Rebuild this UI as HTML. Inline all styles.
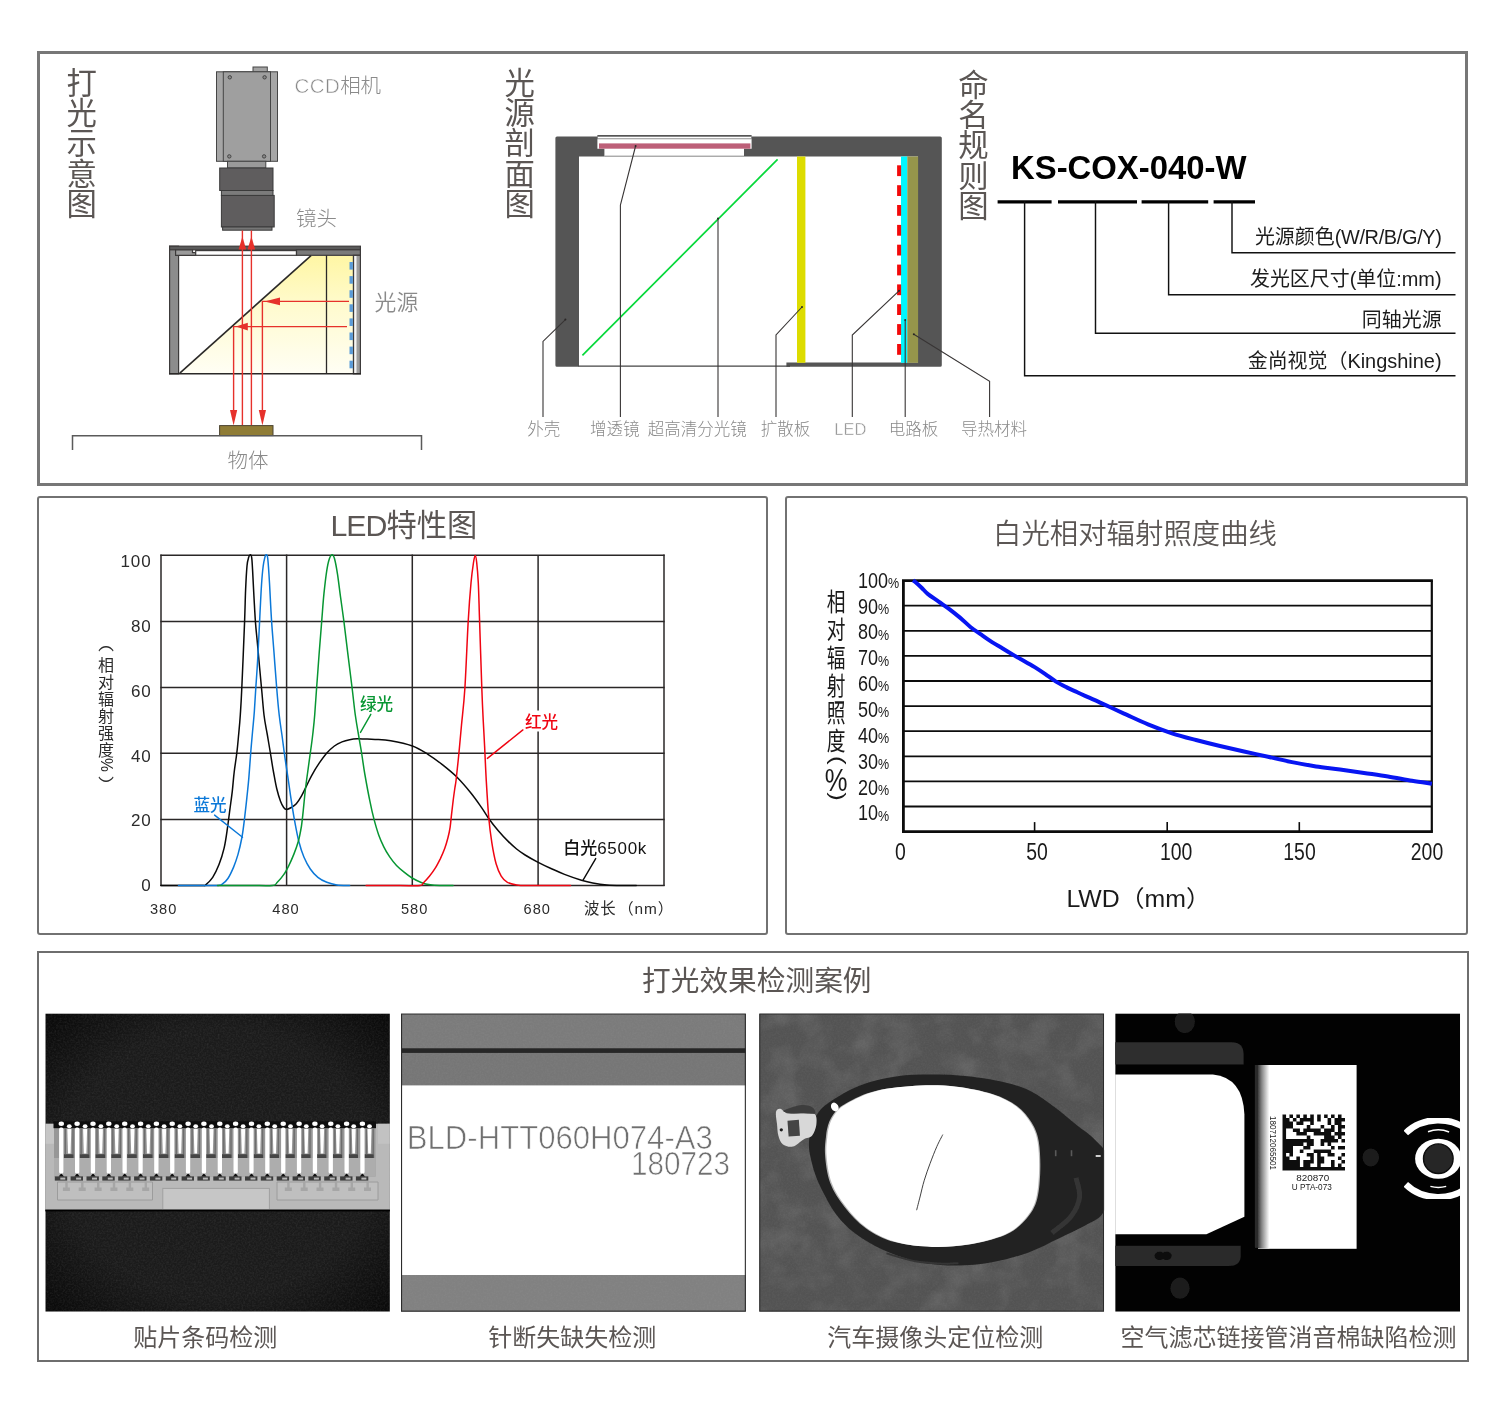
<!DOCTYPE html>
<html lang="zh-CN">
<head>
<meta charset="utf-8">
<title>KS-COX 同轴光源</title>
<style>
html,body{margin:0;padding:0;background:#fff;}
body{width:1500px;height:1420px;position:relative;overflow:hidden;font-family:"Liberation Sans", "Noto Sans CJK SC", sans-serif;}
svg{position:absolute;left:0;top:0;display:block;}
svg text{font-family:"Liberation Sans", "Noto Sans CJK SC", sans-serif;}
</style>
</head>
<body>
<svg width="1500" height="1420" viewBox="0 0 1500 1420">

<!-- ===== panel frames ===== -->
<rect x="38.5" y="52.5" width="1428" height="432" fill="#fff" stroke="#777" stroke-width="3"/>
<rect x="38" y="497" width="729" height="437" rx="2" fill="#fff" stroke="#727272" stroke-width="2"/>
<rect x="786" y="497" width="681" height="437" rx="2" fill="#fff" stroke="#727272" stroke-width="2"/>
<rect x="38" y="952" width="1430" height="409" fill="#fff" stroke="#6e6e6e" stroke-width="2"/>
<text text-anchor="middle" font-size="30.4" fill="#5b5654" font-weight="400" ><tspan x="81.8" y="93.6">打</tspan><tspan x="81.8" y="124.0">光</tspan><tspan x="81.8" y="154.4">示</tspan><tspan x="81.8" y="184.8">意</tspan><tspan x="81.8" y="215.2">图</tspan></text>
<text text-anchor="middle" font-size="30.4" fill="#5b5654" font-weight="400" ><tspan x="519.8" y="93.6">光</tspan><tspan x="519.8" y="124.0">源</tspan><tspan x="519.8" y="154.4">剖</tspan><tspan x="519.8" y="184.8">面</tspan><tspan x="519.8" y="215.2">图</tspan></text>
<text text-anchor="middle" font-size="30.4" fill="#5b5654" font-weight="400" ><tspan x="973.4" y="95.6">命</tspan><tspan x="973.4" y="126.0">名</tspan><tspan x="973.4" y="156.4">规</tspan><tspan x="973.4" y="186.8">则</tspan><tspan x="973.4" y="217.2">图</tspan></text>
<g stroke="#454545" stroke-width="1">
<rect x="253" y="67" width="14.3" height="6" fill="#a3a3a3"/>
<rect x="216.5" y="71.8" width="61" height="89.5" fill="#a6a6a6"/>
<rect x="223.3" y="71.8" width="47.2" height="89.5" fill="#9f9f9f"/>
<circle cx="229.8" cy="77.3" r="1.7" fill="#8a8a8a"/>
<circle cx="264.6" cy="77.3" r="1.7" fill="#8a8a8a"/>
<circle cx="229.3" cy="156.4" r="1.7" fill="#8a8a8a"/>
<circle cx="264.1" cy="156.4" r="1.7" fill="#8a8a8a"/>
<rect x="227.5" y="161.3" width="38.3" height="6.7" fill="#9a9a9a"/>
</g>
<g stroke="#3a3a3a" stroke-width="1">
<rect x="219.7" y="168" width="53.3" height="22.5" fill="#5f5d5e"/>
<rect x="221.4" y="190.5" width="51.6" height="5" fill="#7b7b7b"/>
<rect x="221.4" y="195.4" width="52.8" height="31.6" fill="#5f5d5e"/>
<rect x="222.6" y="227" width="49.4" height="3.2" fill="#767676"/>
</g>
<defs><linearGradient id="gy" x1="0" y1="0" x2="0" y2="1"><stop offset="0" stop-color="#fff6a4"/><stop offset="0.45" stop-color="#fffbd0"/><stop offset="1" stop-color="#fffef4"/></linearGradient></defs>
<polygon points="179.6,373.4 311,255.4 353.5,255.4 353.5,373.4" fill="url(#gy)"/>
<g stroke="#3c3a3a" stroke-width="1.2">
<rect x="169.6" y="246.2" width="9" height="127.6" fill="#8c8c8c"/>
<rect x="169.6" y="246.2" width="190.8" height="3.6" fill="#5a5a5a"/>
<path d="M175.6 249.8H192.5V252.6H195.7V255.3H175.6Z" fill="#9b9b9b"/>
<rect x="195.7" y="250.6" width="100.8" height="4.7" fill="#fff"/>
<rect x="296.5" y="249.8" width="63.9" height="5.5" fill="#7a7a7a"/>
<rect x="353.4" y="255.3" width="7" height="118.5" fill="#9c9c9c"/>
</g>
<rect x="354.3" y="256" width="2.2" height="117.2" fill="#f4f4f4"/>
<g stroke="#2b2928" fill="none">
<line x1="169" y1="373.8" x2="361" y2="373.8" stroke-width="1.4"/>
<line x1="326.5" y1="255.3" x2="326.5" y2="373.8" stroke-width="1.3"/>
<line x1="179.8" y1="373.2" x2="311" y2="255.6" stroke-width="1.6"/>
</g>
<g fill="#5b9bd8"><rect x="349.5" y="262.0" width="3.4" height="7.6"/><rect x="349.5" y="276.1" width="3.4" height="7.6"/><rect x="349.5" y="290.2" width="3.4" height="7.6"/><rect x="349.5" y="304.3" width="3.4" height="7.6"/><rect x="349.5" y="318.4" width="3.4" height="7.6"/><rect x="349.5" y="332.5" width="3.4" height="7.6"/><rect x="349.5" y="346.6" width="3.4" height="7.6"/><rect x="349.5" y="360.7" width="3.4" height="7.6"/></g>
<g stroke="#e6312b" stroke-width="1.4" fill="none">
<line x1="242.4" y1="230.5" x2="242.4" y2="425"/>
<line x1="251.4" y1="230.5" x2="251.4" y2="425"/>
<polyline points="349,301.4 262.4,301.4 262.4,412"/>
<polyline points="347,326.6 233.6,326.6 233.6,412"/>
</g>
<g fill="#e6312b">
<polygon points="242.4,236.5 246.2,249.6 238.6,249.6"/>
<polygon points="251.4,236.5 255.2,249.6 247.6,249.6"/>
<polygon points="264.5,301.4 280,297.6 280,305.2"/>
<polygon points="235.8,326.6 247.8,322.8 247.8,330.4"/>
<polygon points="262.4,425.4 258.8,410 266,410"/>
<polygon points="233.6,425.4 230,410 237.2,410"/>
</g>
<rect x="219.6" y="425.6" width="53.4" height="10" fill="#8f7c36" stroke="#4a4330" stroke-width="1"/>
<polyline points="72.5,450 72.5,435.8 421.5,435.8 421.5,450" fill="none" stroke="#5a5a5a" stroke-width="1.5"/>
<g font-size="20.5" fill="#8a8a8a" font-weight="300">
<text x="294.5" y="92.5"><tspan stroke="#fff" stroke-width="0.55" letter-spacing="0.4">CCD</tspan>相机</text>
<text x="296" y="225.5">镜头</text>
<text x="374.6" y="309.6" font-size="21.8" font-weight="350">光源</text>
<text x="227.5" y="468">物体</text>
</g>
<g>
<path fill="#555555" fill-rule="evenodd" d="M557 136.4H940.2Q941.8 136.4 941.8 138V365.2Q941.8 366.8 940.2 366.8H786.4V362.6H918V156.5H579V366.8H557Q555.4 366.8 555.4 365.2V138Q555.4 136.4 557 136.4ZM597.4 135H751.6V148.8H744V156.6H604.4V148.8H597.4Z"/>
<line x1="578.5" y1="366.2" x2="790" y2="366.2" stroke="#444" stroke-width="1.2"/>
<rect x="597.6" y="136.6" width="153.8" height="2.2" fill="#fff" stroke="#777" stroke-width="0.8"/>
<line x1="604.4" y1="156.2" x2="744" y2="156.2" stroke="#666" stroke-width="0.8"/>
<rect x="599" y="143.4" width="151.4" height="5.3" fill="#bd5f78"/>
<line x1="582.4" y1="355.4" x2="777.6" y2="159.4" stroke="#06d83a" stroke-width="1.7"/>
<rect x="797" y="156.5" width="8.4" height="206.3" fill="#dddc00"/>
<rect x="901" y="156.5" width="6.4" height="206.3" fill="#00f6ff"/>
<rect x="907.3" y="156.5" width="10.8" height="206.3" fill="#95954b"/>
<g fill="#f20a0a"><rect x="897.1" y="165.3" width="4" height="10.8"/><rect x="897.1" y="185.2" width="4" height="10.8"/><rect x="897.1" y="205.0" width="4" height="10.8"/><rect x="897.1" y="224.9" width="4" height="10.8"/><rect x="897.1" y="244.7" width="4" height="10.8"/><rect x="897.1" y="264.6" width="4" height="10.8"/><rect x="897.1" y="284.4" width="4" height="10.8"/><rect x="897.1" y="304.2" width="4" height="10.8"/><rect x="897.1" y="324.1" width="4" height="10.8"/><rect x="897.1" y="344.0" width="4" height="10.8"/></g>
</g>
<g stroke="#383535" stroke-width="1.1" fill="none">
<polyline points="565.4,319.6 543,341.4 543,417"/>
<polyline points="635.6,146 620.4,205 620.4,417"/>
<polyline points="718,218.6 718,417"/>
<polyline points="802,307 776,335 776,417"/>
<polyline points="899,290.8 852.3,335 852.3,417"/>
<polyline points="905.2,320 905.2,417"/>
<polyline points="913.8,334.3 989.6,381.4 989.6,417"/>
</g>
<g fill="#2a2727">
<circle cx="565.4" cy="319.6" r="1"/>
<circle cx="635.6" cy="146" r="1"/>
<circle cx="718" cy="218.6" r="1"/>
<circle cx="802" cy="307" r="1"/>
<circle cx="899" cy="290.8" r="1"/>
<circle cx="905.2" cy="320" r="1"/>
<circle cx="913.8" cy="334.3" r="1"/>
</g>
<g font-size="16.5" fill="#8a8a8a" font-weight="300" text-anchor="middle">
<text x="543.8" y="434.6">外壳</text>
<text x="614.7" y="434.6">增透镜</text>
<text x="697.2" y="434.6">超高清分光镜</text>
<text x="785.5" y="434.6">扩散板</text>
<text x="850.4" y="434.6"><tspan stroke="#fff" stroke-width="0.5">LED</tspan></text>
<text x="913.4" y="434.6">电路板</text>
<text x="994" y="434.6">导热材料</text>
</g>
<text x="1011" y="179" font-size="32.6" font-weight="700" fill="#000" textLength="235.5" lengthAdjust="spacingAndGlyphs">KS-COX-040-W</text>
<g stroke="#000" stroke-width="3.4">
<line x1="997.6" y1="201.9" x2="1051.6" y2="201.9"/>
<line x1="1058" y1="201.9" x2="1137" y2="201.9"/>
<line x1="1141.6" y1="201.9" x2="1208.2" y2="201.9"/>
<line x1="1213.6" y1="201.9" x2="1255" y2="201.9"/>
</g>
<g stroke="#111" stroke-width="1.45" fill="none">
<polyline points="1024.6,201.2 1024.6,375.8 1455.5,375.8"/>
<polyline points="1095.5,201.2 1095.5,333.3 1455.5,333.3"/>
<polyline points="1168.6,201.2 1168.6,294.8 1455.5,294.8"/>
<polyline points="1232,201.2 1232,252.7 1455.5,252.7"/>
</g>
<g font-size="19.95" fill="#1c1c1c" text-anchor="end">
<text x="1441.6" y="244.3">光源颜色<tspan letter-spacing="-0.35">(W/R/B/G/Y)</tspan></text>
<text x="1441.6" y="285.9">发光区尺寸(单位:mm)</text>
<text x="1441.6" y="326.6">同轴光源</text>
<text x="1441.6" y="367.6">金尚视觉（Kingshine)</text>
</g>
<text x="403.9" y="536" font-size="30.3" fill="#5b5654" text-anchor="middle"><tspan letter-spacing="-1">LED</tspan>特性图</text>
<g stroke="#2a2727" stroke-width="1.5" fill="none">
<line x1="161" y1="554.6" x2="161" y2="886.1"/>
<line x1="286.6" y1="554.6" x2="286.6" y2="886.1"/>
<line x1="412.3" y1="554.6" x2="412.3" y2="886.1"/>
<line x1="538.1" y1="555.2" x2="538.1" y2="710.5"/>
<line x1="538.1" y1="731.5" x2="538.1" y2="885.5"/>
<line x1="664" y1="554.6" x2="664" y2="886.1"/>
<line x1="160.4" y1="555.2" x2="664.6" y2="555.2"/>
<line x1="160.4" y1="621.4" x2="664.6" y2="621.4"/>
<line x1="160.4" y1="687.6" x2="664.6" y2="687.6"/>
<line x1="160.4" y1="753.3" x2="664.6" y2="753.3"/>
<line x1="160.4" y1="819.6" x2="664.6" y2="819.6"/>
<line x1="160.4" y1="885.5" x2="664.6" y2="885.5"/>
</g>
<g fill="none" stroke-linejoin="round" stroke-linecap="round">
<path d="M161.0 885.5C165.8 885.5 183.0 885.5 190.0 885.5C197.0 885.5 200.4 885.6 203.0 885.5C205.6 885.4 204.1 886.3 205.7 884.9C207.3 883.5 210.5 880.7 212.7 877.3C214.9 873.9 217.1 869.5 219.0 864.6C220.9 859.7 222.7 854.0 224.1 848.1C225.5 842.2 226.4 835.4 227.3 829.1C228.2 822.8 229.0 816.4 229.8 810.1C230.6 803.8 231.6 797.5 232.3 791.1C233.0 784.8 233.4 778.4 234.2 772.0C234.9 765.6 236.1 759.3 236.8 753.0C237.6 746.7 238.1 740.3 238.7 734.0C239.3 727.7 239.8 722.7 240.3 715.0C240.8 707.3 241.1 703.6 241.8 688.0C242.5 672.4 244.0 637.7 244.6 621.4C245.2 605.1 245.2 599.2 245.6 590.0C246.0 580.8 246.5 571.4 247.0 566.0C247.5 560.6 248.0 559.5 248.6 557.6C249.2 555.7 249.9 554.8 250.4 554.8C250.9 554.8 251.3 555.1 251.7 557.7C252.1 560.3 252.2 564.1 252.6 570.4C253.0 576.7 253.4 587.2 253.9 595.7C254.4 604.2 254.8 613.0 255.4 621.4C256.0 629.8 256.7 635.3 257.7 646.4C258.7 657.5 260.4 676.6 261.5 688.0C262.6 699.4 263.1 707.3 264.0 715.0C264.9 722.7 266.1 727.7 267.2 734.0C268.3 740.3 269.3 746.7 270.4 753.0C271.4 759.3 272.4 766.1 273.5 772.0C274.6 777.9 275.5 783.6 276.7 788.5C277.9 793.4 279.3 798.0 280.5 801.2C281.7 804.4 282.7 806.1 283.7 807.5C284.7 808.9 285.3 809.4 286.6 809.4C287.9 809.4 289.7 808.5 291.3 807.5C292.9 806.5 294.6 805.6 296.3 803.7C298.0 801.8 299.7 799.1 301.4 796.1C303.1 793.1 304.8 789.4 306.5 786.0C308.2 782.6 309.4 779.6 311.5 775.8C313.6 772.0 316.6 767.0 319.2 763.2C321.8 759.4 324.3 755.9 326.8 753.0C329.3 750.1 331.9 747.9 334.4 746.0C336.9 744.1 339.5 742.9 342.0 741.9C344.5 740.9 347.1 740.2 349.6 739.7C352.1 739.2 354.7 738.9 357.2 738.8C359.7 738.7 361.8 738.9 364.8 739.0C367.8 739.1 370.7 739.1 375.0 739.4C379.3 739.7 384.5 739.7 390.7 740.8C396.9 741.9 406.2 743.8 412.4 746.0C418.6 748.2 422.9 751.2 427.9 754.3C432.9 757.4 437.5 760.8 442.3 764.6C447.1 768.4 452.0 772.2 456.8 777.0C461.6 781.8 467.2 788.4 471.3 793.5C475.4 798.6 478.7 803.5 481.6 807.6C484.5 811.7 485.7 814.3 488.5 818.2C491.3 822.1 495.0 826.9 498.3 830.8C501.6 834.7 505.1 838.4 508.2 841.4C511.2 844.4 513.8 846.7 516.6 849.0C519.4 851.3 521.6 852.8 525.1 855.0C528.6 857.2 533.5 859.9 537.7 862.1C541.9 864.3 545.9 866.2 550.4 868.2C554.9 870.2 559.3 872.4 564.5 874.4C569.7 876.4 576.7 878.8 581.4 880.2C586.1 881.6 588.5 882.2 592.7 883.0C596.9 883.8 602.1 884.6 606.8 885.0C611.5 885.4 615.9 885.5 620.8 885.6C625.7 885.7 633.7 885.4 636.3 885.4" stroke="#0a0a0a" stroke-width="1.5"/>
<path d="M178.5 885.5C182.1 885.5 193.5 885.5 200.0 885.5C206.5 885.5 214.0 885.7 217.7 885.5C221.4 885.3 220.5 885.4 222.2 884.2C223.9 883.0 226.0 881.4 227.9 878.5C229.8 875.6 231.9 871.1 233.6 867.1C235.3 863.1 236.6 859.2 238.0 854.4C239.4 849.5 240.7 843.8 241.8 838.0C242.9 832.2 243.6 826.4 244.4 819.6C245.2 812.8 246.2 804.3 246.9 797.4C247.6 790.5 248.2 785.8 248.8 778.4C249.4 771.0 250.1 760.9 250.7 753.0C251.3 745.1 252.0 737.8 252.6 731.0C253.2 724.2 253.8 719.2 254.3 712.0C254.8 704.8 255.2 696.8 255.8 688.0C256.4 679.2 257.1 670.1 257.7 659.0C258.3 647.9 259.0 633.7 259.6 621.4C260.2 609.1 260.9 594.2 261.5 585.0C262.1 575.8 262.6 570.6 263.2 566.0C263.8 561.4 264.3 559.5 264.8 557.6C265.3 555.7 265.8 554.6 266.3 554.8C266.8 555.0 267.3 554.3 267.8 559.0C268.3 563.7 268.9 572.6 269.5 583.0C270.1 593.4 270.8 609.4 271.6 621.4C272.4 633.4 273.4 644.2 274.2 655.3C275.0 666.4 275.9 678.0 276.7 688.0C277.5 698.0 278.3 707.3 279.2 715.0C280.1 722.7 280.9 727.7 281.8 734.0C282.7 740.3 283.4 746.2 284.3 753.0C285.2 759.8 286.4 767.4 287.5 774.6C288.6 781.8 289.5 788.6 290.6 796.1C291.8 803.6 293.0 812.0 294.4 819.6C295.8 827.2 297.3 835.6 298.9 841.8C300.5 848.0 302.0 852.5 303.9 857.0C305.8 861.5 308.0 865.6 310.3 869.0C312.6 872.4 315.1 875.1 317.9 877.3C320.6 879.5 323.6 881.0 326.8 882.3C330.0 883.6 333.1 884.4 336.9 884.9C340.7 885.4 347.5 885.4 349.6 885.5" stroke="#0b78d8" stroke-width="1.5"/>
<path d="M217.5 885.5C222.9 885.5 240.9 885.5 250.0 885.5C259.1 885.5 267.8 886.0 272.3 885.5C276.9 885.0 275.4 884.1 277.3 882.3C279.2 880.5 281.8 877.5 283.7 874.7C285.6 872.0 287.0 869.2 288.7 865.8C290.4 862.4 292.2 858.4 293.8 854.4C295.4 850.4 296.9 846.4 298.2 841.8C299.5 837.1 300.5 831.8 301.4 826.5C302.2 821.2 302.7 816.0 303.3 810.1C303.9 804.2 304.5 797.5 305.2 791.1C305.9 784.8 306.8 778.4 307.7 772.0C308.6 765.6 309.4 759.3 310.3 753.0C311.2 746.7 312.1 740.3 312.8 734.0C313.5 727.7 314.1 722.7 314.7 715.0C315.3 707.3 315.9 698.4 316.6 688.0C317.4 677.6 318.4 663.8 319.2 652.7C320.0 641.6 320.9 631.3 321.7 621.4C322.5 611.5 323.1 601.7 324.0 593.2C324.9 584.7 325.9 576.1 326.8 570.4C327.7 564.7 328.4 561.6 329.3 559.0C330.2 556.4 331.2 554.8 332.1 554.8C333.0 554.8 333.7 555.8 334.6 559.0C335.5 562.2 336.5 567.7 337.5 574.2C338.5 580.7 339.6 590.3 340.7 598.2C341.8 606.1 342.7 612.3 343.9 621.4C345.1 630.5 346.3 641.6 347.7 652.7C349.1 663.8 350.8 677.6 352.1 688.0C353.4 698.4 354.2 707.3 355.3 715.0C356.4 722.7 357.3 727.7 358.4 734.0C359.4 740.3 360.5 746.3 361.6 753.0C362.7 759.7 363.4 766.0 364.8 774.0C366.2 782.0 368.3 793.5 369.9 801.1C371.4 808.7 372.6 814.0 374.1 819.6C375.6 825.2 377.1 830.4 378.7 834.9C380.3 839.4 382.0 843.1 383.8 846.8C385.6 850.5 387.6 853.8 389.7 856.9C391.8 860.0 394.1 862.9 396.5 865.4C398.9 867.9 401.5 870.0 404.1 872.1C406.7 874.2 409.2 876.2 412.1 878.0C415.1 879.8 418.8 881.6 421.8 882.7C424.8 883.8 427.3 884.3 430.3 884.8C433.3 885.3 435.8 885.4 439.6 885.5C443.4 885.6 450.9 885.5 453.1 885.5" stroke="#079632" stroke-width="1.5"/>
<path d="M366.1 885.5C371.8 885.5 391.0 885.5 400.0 885.5C409.0 885.5 416.2 886.0 420.1 885.5C424.0 885.0 421.9 884.2 423.5 882.7C425.1 881.2 427.4 878.8 429.4 876.3C431.4 873.8 433.6 870.8 435.4 867.9C437.2 865.0 438.8 861.8 440.4 858.6C441.9 855.4 443.4 852.0 444.7 848.5C446.0 845.0 447.1 841.0 448.0 837.5C448.9 834.0 449.5 831.2 450.1 827.3C450.7 823.3 451.1 818.2 451.6 813.8C452.1 809.4 452.6 805.3 453.1 801.1C453.6 796.9 454.3 792.0 454.8 788.5C455.3 785.0 455.4 785.9 456.1 780.0C456.8 774.1 458.0 762.4 458.9 753.2C459.8 744.0 460.5 735.9 461.5 725.0C462.5 714.1 463.8 705.3 464.9 688.0C466.0 670.7 467.2 638.9 468.2 621.4C469.2 603.9 470.1 592.8 471.0 583.0C471.9 573.2 472.8 567.1 473.5 562.5C474.2 557.9 474.7 555.5 475.2 555.5C475.7 555.5 476.2 557.9 476.7 562.5C477.2 567.1 477.8 573.2 478.3 583.0C478.8 592.8 479.0 603.9 479.6 621.4C480.2 638.9 481.2 671.6 481.8 688.0C482.4 704.4 482.7 710.3 483.2 720.0C483.7 729.7 484.1 735.8 484.6 746.0C485.1 756.2 485.6 769.1 486.3 781.1C487.0 793.1 487.9 808.0 488.8 818.3C489.7 828.6 490.7 835.5 491.9 843.1C493.1 850.7 494.6 858.3 496.1 863.8C497.7 869.3 499.3 873.1 501.2 876.2C503.1 879.3 504.8 881.0 507.4 882.4C510.0 883.8 513.4 884.4 516.7 884.9C520.0 885.4 521.5 885.4 527.0 885.5C532.5 885.6 542.8 885.5 550.0 885.5C557.2 885.5 567.1 885.5 570.5 885.5" stroke="#f00512" stroke-width="1.5"/>
<line x1="214.6" y1="815.1" x2="242.5" y2="837.3" stroke="#0b78d8" stroke-width="1.4"/>
<line x1="370.8" y1="714.3" x2="360.5" y2="732.4" stroke="#079632" stroke-width="1.4"/>
<line x1="522.9" y1="729.9" x2="487.4" y2="758.4" stroke="#f00512" stroke-width="1.4"/>
<line x1="595.7" y1="858.6" x2="582.9" y2="880.3" stroke="#0a0a0a" stroke-width="1.4"/>
</g>
<g font-size="16.6" font-weight="500">
<text x="193.5" y="811" fill="#0b78d8">蓝光</text>
<text x="360" y="710" fill="#079632">绿光</text>
<text x="525" y="727.5" fill="#f00512">红光</text>
<text x="563.2" y="853.6" fill="#111" font-size="17">白光<tspan letter-spacing="0.7">6500k</tspan></text>
</g>
<g font-size="17" fill="#2b2b2b" text-anchor="end" letter-spacing="0.9">
<text x="151.6" y="567.4">100</text>
<text x="151.6" y="632.2">80</text>
<text x="151.6" y="697">60</text>
<text x="151.6" y="762.4">40</text>
<text x="151.6" y="826.4">20</text>
<text x="151.6" y="890.8">0</text>
</g>
<g font-size="14.6" fill="#2b2b2b" text-anchor="middle" letter-spacing="1">
<text x="163.6" y="913.6">380</text>
<text x="286" y="913.6">480</text>
<text x="414.6" y="913.6">580</text>
<text x="537.2" y="913.6">680</text>
</g>
<text x="584" y="914.2" font-size="15.4" fill="#2b2b2b" letter-spacing="0.9">波长<tspan dx="1.6">（nm）</tspan></text>
<g font-size="16" fill="#2b2b2b" text-anchor="middle"><text transform="translate(106,649.8) scale(0.78,1)" font-size="20">︵</text><text x="106" y="670.6">相</text><text x="106" y="687.7">对</text><text x="106" y="704.8">辐</text><text x="106" y="721.9">射</text><text x="106" y="739.0">强</text><text x="106" y="756.1">度</text><text transform="translate(106,793.9) scale(0.78,1)" font-size="20">︶</text></g><text transform="translate(100.6,757.9) rotate(90)" font-size="15.6" fill="#2b2b2b">%</text>
<text x="1135" y="544.4" font-size="28.4" fill="#5b5654" text-anchor="middle" font-weight="350">白光相对辐射照度曲线</text>
<g stroke="#0c0c0c" fill="none">
<line x1="903.4" y1="605.7" x2="1431.8" y2="605.7" stroke-width="1.8"/>
<line x1="903.4" y1="630.8" x2="1431.8" y2="630.8" stroke-width="1.8"/>
<line x1="903.4" y1="655.9" x2="1431.8" y2="655.9" stroke-width="1.8"/>
<line x1="903.4" y1="681.0" x2="1431.8" y2="681.0" stroke-width="1.8"/>
<line x1="903.4" y1="706.1" x2="1431.8" y2="706.1" stroke-width="1.8"/>
<line x1="903.4" y1="731.2" x2="1431.8" y2="731.2" stroke-width="1.8"/>
<line x1="903.4" y1="756.3" x2="1431.8" y2="756.3" stroke-width="1.8"/>
<line x1="903.4" y1="781.4" x2="1431.8" y2="781.4" stroke-width="1.8"/>
<line x1="903.4" y1="806.5" x2="1431.8" y2="806.5" stroke-width="1.8"/>
<line x1="902.0" y1="580.6" x2="1432.8999999999999" y2="580.6" stroke-width="2.8"/>
<line x1="902.0" y1="831.6" x2="1432.8999999999999" y2="831.6" stroke-width="2.8"/>
<line x1="903.4" y1="580.6" x2="903.4" y2="831.6" stroke-width="2.8"/>
<line x1="1431.8" y1="580.6" x2="1431.8" y2="831.6" stroke-width="2.2"/>
<line x1="1034.6" y1="831.6" x2="1034.6" y2="822.1" stroke-width="1.6"/>
<line x1="1167.2" y1="831.6" x2="1167.2" y2="822.1" stroke-width="1.6"/>
<line x1="1299.3" y1="831.6" x2="1299.3" y2="822.1" stroke-width="1.6"/>
</g>
<path d="M913.0 580.3C913.4 580.6 914.2 581.0 915.6 582.2C917.0 583.4 919.5 585.7 921.6 587.7C923.7 589.7 925.1 591.8 928.0 594.1C930.9 596.4 935.2 599.1 938.7 601.6C942.2 604.1 945.8 606.4 949.3 609.1C952.8 611.8 956.4 614.6 960.0 617.6C963.6 620.6 967.2 624.4 970.7 627.2C974.2 630.1 977.8 632.2 981.3 634.7C984.8 637.2 988.4 639.8 992.0 642.1C995.6 644.4 999.2 646.4 1002.7 648.5C1006.2 650.6 1009.8 652.8 1013.3 654.9C1016.8 657.0 1020.4 658.9 1024.0 660.9C1027.6 662.9 1031.2 664.9 1034.7 667.1C1038.2 669.3 1041.8 671.7 1045.3 674.1C1048.8 676.5 1052.4 679.4 1056.0 681.6C1059.6 683.8 1063.2 685.6 1066.7 687.4C1070.2 689.2 1073.8 690.7 1077.3 692.3C1080.8 693.9 1084.4 695.6 1088.0 697.2C1091.6 698.8 1095.2 700.3 1098.7 701.9C1102.2 703.5 1105.1 704.8 1109.3 706.8C1113.5 708.8 1117.5 710.7 1124.0 713.6C1130.5 716.5 1140.0 721.1 1148.0 724.4C1156.0 727.7 1164.0 730.7 1172.0 733.3C1180.0 735.9 1188.0 737.9 1196.0 740.0C1204.0 742.1 1212.0 744.1 1220.0 746.0C1228.0 747.9 1236.0 749.7 1244.0 751.5C1252.0 753.3 1260.0 755.0 1268.0 756.8C1276.0 758.6 1284.0 760.5 1292.0 762.1C1300.0 763.7 1308.0 765.2 1316.0 766.4C1324.0 767.6 1332.0 768.4 1340.0 769.5C1348.0 770.6 1356.0 771.7 1364.0 772.9C1372.0 774.1 1380.0 775.2 1388.0 776.5C1396.0 777.8 1404.7 779.6 1412.0 780.8C1419.3 782.0 1428.6 783.2 1431.9 783.7" fill="none" stroke="#0715f2" stroke-width="4" stroke-linecap="butt" stroke-linejoin="round"/>
<text transform="translate(858,587.6) scale(0.835,1)" font-size="21.6" fill="#1a1a1a">100<tspan font-size="15" dy="0.4">%</tspan></text>
<text transform="translate(858,613.5) scale(0.835,1)" font-size="21.6" fill="#1a1a1a">90<tspan font-size="15" dy="0.4">%</tspan></text>
<text transform="translate(858,639.3) scale(0.835,1)" font-size="21.6" fill="#1a1a1a">80<tspan font-size="15" dy="0.4">%</tspan></text>
<text transform="translate(858,665.2) scale(0.835,1)" font-size="21.6" fill="#1a1a1a">70<tspan font-size="15" dy="0.4">%</tspan></text>
<text transform="translate(858,691.0) scale(0.835,1)" font-size="21.6" fill="#1a1a1a">60<tspan font-size="15" dy="0.4">%</tspan></text>
<text transform="translate(858,716.9) scale(0.835,1)" font-size="21.6" fill="#1a1a1a">50<tspan font-size="15" dy="0.4">%</tspan></text>
<text transform="translate(858,742.8) scale(0.835,1)" font-size="21.6" fill="#1a1a1a">40<tspan font-size="15" dy="0.4">%</tspan></text>
<text transform="translate(858,768.6) scale(0.835,1)" font-size="21.6" fill="#1a1a1a">30<tspan font-size="15" dy="0.4">%</tspan></text>
<text transform="translate(858,794.5) scale(0.835,1)" font-size="21.6" fill="#1a1a1a">20<tspan font-size="15" dy="0.4">%</tspan></text>
<text transform="translate(858,820.3) scale(0.835,1)" font-size="21.6" fill="#1a1a1a">10<tspan font-size="15" dy="0.4">%</tspan></text>
<text transform="translate(900.3,860.2) scale(0.83,1)" font-size="23.4" fill="#1a1a1a" text-anchor="middle">0</text>
<text transform="translate(1037.1,860.2) scale(0.83,1)" font-size="23.4" fill="#1a1a1a" text-anchor="middle">50</text>
<text transform="translate(1176.2,860.2) scale(0.83,1)" font-size="23.4" fill="#1a1a1a" text-anchor="middle">100</text>
<text transform="translate(1299.5,860.2) scale(0.83,1)" font-size="23.4" fill="#1a1a1a" text-anchor="middle">150</text>
<text transform="translate(1427,860.2) scale(0.83,1)" font-size="23.4" fill="#1a1a1a" text-anchor="middle">200</text>
<text x="1066.4" y="907.4" font-size="23" fill="#1a1a1a" textLength="144.5" lengthAdjust="spacingAndGlyphs">LWD（mm）</text>
<g transform="translate(836.2,0) scale(0.75,1)" font-size="25" fill="#1a1a1a" text-anchor="middle"><text x="0" y="610.9">相</text><text x="0" y="638.8">对</text><text x="0" y="666.7">辐</text><text x="0" y="694.6">射</text><text x="0" y="722.5">照</text><text x="0" y="750.4">度</text></g>
<text transform="translate(830.9,756) rotate(90) scale(1.25,1)" font-size="20.5" fill="#1a1a1a">(</text>
<text transform="translate(836.2,791.4) scale(0.8,1)" font-size="32" fill="#1a1a1a" text-anchor="middle">%</text>
<text transform="translate(830.9,792.2) rotate(90) scale(1.25,1)" font-size="20.5" fill="#1a1a1a">)</text>
<text x="756.8" y="991.1" font-size="28.7" fill="#5b5654" text-anchor="middle">打光效果检测案例</text>
<g font-size="24" fill="#5b5654" text-anchor="middle">
<text x="205.2" y="1346">贴片条码检测</text>
<text x="572.2" y="1346">针断失缺失检测</text>
<text x="935.2" y="1346">汽车摄像头定位检测</text>
<text x="1288.6" y="1346">空气滤芯链接管消音棉缺陷检测</text>
</g>
<defs><radialGradient id="vg1" cx="0.5" cy="0.5" r="0.75"><stop offset="0.6" stop-color="#1b1b1b"/><stop offset="1" stop-color="#060606"/></radialGradient><filter id="soft" x="-2%" y="-2%" width="104%" height="104%"><feGaussianBlur stdDeviation="0.55"/></filter><filter id="soft2" x="-2%" y="-2%" width="104%" height="104%"><feGaussianBlur stdDeviation="0.55"/></filter><filter id="grain" x="0" y="0" width="100%" height="100%"><feTurbulence type="fractalNoise" baseFrequency="0.55" numOctaves="2" seed="4" result="n"/><feColorMatrix in="n" type="matrix" values="0 0 0 0 1  0 0 0 0 1  0 0 0 0 1  0.55 0.55 0 0 -0.42"/></filter><filter id="mottle" x="0" y="0" width="100%" height="100%"><feTurbulence type="fractalNoise" baseFrequency="0.035" numOctaves="3" seed="9" result="n"/><feColorMatrix in="n" type="matrix" values="0 0 0 0 1  0 0 0 0 1  0 0 0 0 1  0.9 0.9 0 0 -0.78"/></filter></defs>
<svg x="45.3" y="1013.4" width="344.6" height="298.30000000000007" viewBox="45.3 1013.4 344.6 298.30000000000007">
<rect x="45.3" y="1013.4" width="344.6" height="298.30000000000007" fill="url(#vg1)"/>
<rect x="45.3" y="1013.4" width="344.6" height="298.30000000000007" filter="url(#grain)" opacity="0.16"/>
<g filter="url(#soft)">
<rect x="45" y="1123.8" width="345.2" height="86" fill="#b9b9b9"/>
<rect x="45" y="1123.8" width="9" height="20" fill="#c6c6c6"/>
<rect x="378" y="1123.8" width="12.5" height="20" fill="#c2c2c2"/>
<rect x="54" y="1122" width="321.5" height="54.5" fill="#979797"/>
<rect x="54" y="1158" width="321.5" height="18.5" fill="#adadad"/>
<rect x="53.5" y="1121.6" width="322.5" height="6.6" fill="#0b0b0b"/>
<path d="M57.5 1182H152.5V1200H57.5Z" fill="#bfbfbf" stroke="#9c9c9c" stroke-width="1"/>
<path d="M277 1182H378V1200H277Z" fill="#bfbfbf" stroke="#9c9c9c" stroke-width="1"/>
<rect x="162.8" y="1188.4" width="106.6" height="21.2" fill="#c6c6c6" stroke="#a0a0a0" stroke-width="1"/>
<rect x="64.0" y="1154.2" width="9.6" height="3.8" fill="#454545"/><rect x="54.8" y="1176.4" width="12.4" height="4.2" fill="#3c3c3c"/><rect x="60.3" y="1177.6" width="5" height="2" fill="#b8b8b8"/><path d="M61.3 1173.2l2.6 3.4h-5.2z" fill="#101010"/><path d="M65.3 1181.5v6h-2.4v3.4h7v-3.4h-2.2v-6z" fill="#a6a6a6"/><rect x="79.8" y="1154.2" width="9.6" height="3.8" fill="#454545"/><rect x="70.6" y="1176.4" width="12.4" height="4.2" fill="#3c3c3c"/><rect x="76.1" y="1177.6" width="5" height="2" fill="#b8b8b8"/><path d="M77.1 1173.2l2.6 3.4h-5.2z" fill="#101010"/><path d="M81.1 1181.5v6h-2.4v3.4h7v-3.4h-2.2v-6z" fill="#a6a6a6"/><rect x="95.6" y="1154.2" width="9.6" height="3.8" fill="#454545"/><rect x="86.5" y="1176.4" width="12.4" height="4.2" fill="#3c3c3c"/><rect x="92.0" y="1177.6" width="5" height="2" fill="#b8b8b8"/><path d="M93.0 1173.2l2.6 3.4h-5.2z" fill="#101010"/><path d="M97.0 1181.5v6h-2.4v3.4h7v-3.4h-2.2v-6z" fill="#a6a6a6"/><rect x="111.4" y="1154.2" width="9.6" height="3.8" fill="#454545"/><rect x="102.3" y="1176.4" width="12.4" height="4.2" fill="#3c3c3c"/><rect x="107.8" y="1177.6" width="5" height="2" fill="#b8b8b8"/><path d="M108.8 1173.2l2.6 3.4h-5.2z" fill="#101010"/><path d="M112.8 1181.5v6h-2.4v3.4h7v-3.4h-2.2v-6z" fill="#a6a6a6"/><rect x="127.2" y="1154.2" width="9.6" height="3.8" fill="#454545"/><rect x="118.2" y="1176.4" width="12.4" height="4.2" fill="#3c3c3c"/><rect x="123.7" y="1177.6" width="5" height="2" fill="#b8b8b8"/><path d="M124.7 1173.2l2.6 3.4h-5.2z" fill="#101010"/><path d="M128.7 1181.5v6h-2.4v3.4h7v-3.4h-2.2v-6z" fill="#a6a6a6"/><rect x="143.0" y="1154.2" width="9.6" height="3.8" fill="#454545"/><rect x="134.1" y="1176.4" width="12.4" height="4.2" fill="#3c3c3c"/><rect x="139.6" y="1177.6" width="5" height="2" fill="#b8b8b8"/><path d="M140.6 1173.2l2.6 3.4h-5.2z" fill="#101010"/><path d="M144.6 1181.5v6h-2.4v3.4h7v-3.4h-2.2v-6z" fill="#a6a6a6"/><rect x="158.8" y="1154.2" width="9.6" height="3.8" fill="#454545"/><rect x="149.9" y="1176.4" width="12.4" height="4.2" fill="#3c3c3c"/><rect x="155.4" y="1177.6" width="5" height="2" fill="#b8b8b8"/><path d="M156.4 1173.2l2.6 3.4h-5.2z" fill="#101010"/><rect x="174.6" y="1154.2" width="9.6" height="3.8" fill="#454545"/><rect x="165.8" y="1176.4" width="12.4" height="4.2" fill="#3c3c3c"/><rect x="171.2" y="1177.6" width="5" height="2" fill="#b8b8b8"/><path d="M172.2 1173.2l2.6 3.4h-5.2z" fill="#101010"/><rect x="190.4" y="1154.2" width="9.6" height="3.8" fill="#454545"/><rect x="181.6" y="1176.4" width="12.4" height="4.2" fill="#3c3c3c"/><rect x="187.1" y="1177.6" width="5" height="2" fill="#b8b8b8"/><path d="M188.1 1173.2l2.6 3.4h-5.2z" fill="#101010"/><rect x="206.2" y="1154.2" width="9.6" height="3.8" fill="#454545"/><rect x="197.4" y="1176.4" width="12.4" height="4.2" fill="#3c3c3c"/><rect x="202.9" y="1177.6" width="5" height="2" fill="#b8b8b8"/><path d="M203.9 1173.2l2.6 3.4h-5.2z" fill="#101010"/><rect x="222.0" y="1154.2" width="9.6" height="3.8" fill="#454545"/><rect x="213.3" y="1176.4" width="12.4" height="4.2" fill="#3c3c3c"/><rect x="218.8" y="1177.6" width="5" height="2" fill="#b8b8b8"/><path d="M219.8 1173.2l2.6 3.4h-5.2z" fill="#101010"/><rect x="237.8" y="1154.2" width="9.6" height="3.8" fill="#454545"/><rect x="229.1" y="1176.4" width="12.4" height="4.2" fill="#3c3c3c"/><rect x="234.6" y="1177.6" width="5" height="2" fill="#b8b8b8"/><path d="M235.6 1173.2l2.6 3.4h-5.2z" fill="#101010"/><rect x="253.6" y="1154.2" width="9.6" height="3.8" fill="#454545"/><rect x="245.0" y="1176.4" width="12.4" height="4.2" fill="#3c3c3c"/><rect x="250.5" y="1177.6" width="5" height="2" fill="#b8b8b8"/><path d="M251.5 1173.2l2.6 3.4h-5.2z" fill="#101010"/><rect x="269.4" y="1154.2" width="9.6" height="3.8" fill="#454545"/><rect x="260.8" y="1176.4" width="12.4" height="4.2" fill="#3c3c3c"/><rect x="266.3" y="1177.6" width="5" height="2" fill="#b8b8b8"/><path d="M267.3 1173.2l2.6 3.4h-5.2z" fill="#101010"/><rect x="285.2" y="1154.2" width="9.6" height="3.8" fill="#454545"/><rect x="276.7" y="1176.4" width="12.4" height="4.2" fill="#3c3c3c"/><rect x="282.2" y="1177.6" width="5" height="2" fill="#b8b8b8"/><path d="M283.2 1173.2l2.6 3.4h-5.2z" fill="#101010"/><path d="M287.2 1181.5v6h-2.4v3.4h7v-3.4h-2.2v-6z" fill="#a6a6a6"/><rect x="301.0" y="1154.2" width="9.6" height="3.8" fill="#454545"/><rect x="292.6" y="1176.4" width="12.4" height="4.2" fill="#3c3c3c"/><rect x="298.1" y="1177.6" width="5" height="2" fill="#b8b8b8"/><path d="M299.1 1173.2l2.6 3.4h-5.2z" fill="#101010"/><path d="M303.1 1181.5v6h-2.4v3.4h7v-3.4h-2.2v-6z" fill="#a6a6a6"/><rect x="316.8" y="1154.2" width="9.6" height="3.8" fill="#454545"/><rect x="308.4" y="1176.4" width="12.4" height="4.2" fill="#3c3c3c"/><rect x="313.9" y="1177.6" width="5" height="2" fill="#b8b8b8"/><path d="M314.9 1173.2l2.6 3.4h-5.2z" fill="#101010"/><path d="M318.9 1181.5v6h-2.4v3.4h7v-3.4h-2.2v-6z" fill="#a6a6a6"/><rect x="332.6" y="1154.2" width="9.6" height="3.8" fill="#454545"/><rect x="324.2" y="1176.4" width="12.4" height="4.2" fill="#3c3c3c"/><rect x="329.8" y="1177.6" width="5" height="2" fill="#b8b8b8"/><path d="M330.8 1173.2l2.6 3.4h-5.2z" fill="#101010"/><path d="M334.8 1181.5v6h-2.4v3.4h7v-3.4h-2.2v-6z" fill="#a6a6a6"/><rect x="348.4" y="1154.2" width="9.6" height="3.8" fill="#454545"/><rect x="340.1" y="1176.4" width="12.4" height="4.2" fill="#3c3c3c"/><rect x="345.6" y="1177.6" width="5" height="2" fill="#b8b8b8"/><path d="M346.6 1173.2l2.6 3.4h-5.2z" fill="#101010"/><path d="M350.6 1181.5v6h-2.4v3.4h7v-3.4h-2.2v-6z" fill="#a6a6a6"/><rect x="364.2" y="1154.2" width="9.6" height="3.8" fill="#454545"/><rect x="355.9" y="1176.4" width="12.4" height="4.2" fill="#3c3c3c"/><rect x="361.4" y="1177.6" width="5" height="2" fill="#b8b8b8"/><path d="M362.4 1173.2l2.6 3.4h-5.2z" fill="#101010"/><path d="M366.4 1181.5v6h-2.4v3.4h7v-3.4h-2.2v-6z" fill="#a6a6a6"/><rect x="64.6" y="1128.2" width="1.4" height="26" fill="#6d6d6d"/><rect x="72.3" y="1128.2" width="1.4" height="26" fill="#6d6d6d"/><rect x="59.1" y="1127.6" width="4.3" height="46" rx="1.6" fill="#ffffff"/><ellipse cx="61.3" cy="1123.7" rx="2.7" ry="2.2" fill="#ffffff"/><path d="M67.3 1129h4l-0.7 24.4h-2.6z" fill="#ffffff"/><ellipse cx="69.3" cy="1126.2" rx="2.4" ry="2" fill="#ffffff"/><rect x="80.4" y="1128.2" width="1.4" height="26" fill="#6d6d6d"/><rect x="88.1" y="1128.2" width="1.4" height="26" fill="#6d6d6d"/><rect x="75.0" y="1127.6" width="4.3" height="46" rx="1.6" fill="#ffffff"/><ellipse cx="77.1" cy="1123.7" rx="2.7" ry="2.2" fill="#ffffff"/><path d="M83.1 1129h4l-0.7 24.4h-2.6z" fill="#ffffff"/><ellipse cx="85.1" cy="1126.2" rx="2.4" ry="2" fill="#ffffff"/><rect x="96.3" y="1128.2" width="1.4" height="26" fill="#6d6d6d"/><rect x="103.9" y="1128.2" width="1.4" height="26" fill="#6d6d6d"/><rect x="90.8" y="1127.6" width="4.3" height="46" rx="1.6" fill="#ffffff"/><ellipse cx="93.0" cy="1123.7" rx="2.7" ry="2.2" fill="#ffffff"/><path d="M98.9 1129h4l-0.7 24.4h-2.6z" fill="#ffffff"/><ellipse cx="100.9" cy="1126.2" rx="2.4" ry="2" fill="#ffffff"/><rect x="112.1" y="1128.2" width="1.4" height="26" fill="#6d6d6d"/><rect x="119.7" y="1128.2" width="1.4" height="26" fill="#6d6d6d"/><rect x="106.7" y="1127.6" width="4.3" height="46" rx="1.6" fill="#ffffff"/><ellipse cx="108.8" cy="1123.7" rx="2.7" ry="2.2" fill="#ffffff"/><path d="M114.7 1129h4l-0.7 24.4h-2.6z" fill="#ffffff"/><ellipse cx="116.7" cy="1126.2" rx="2.4" ry="2" fill="#ffffff"/><rect x="128.0" y="1128.2" width="1.4" height="26" fill="#6d6d6d"/><rect x="135.5" y="1128.2" width="1.4" height="26" fill="#6d6d6d"/><rect x="122.5" y="1127.6" width="4.3" height="46" rx="1.6" fill="#ffffff"/><ellipse cx="124.7" cy="1123.7" rx="2.7" ry="2.2" fill="#ffffff"/><path d="M130.5 1129h4l-0.7 24.4h-2.6z" fill="#ffffff"/><ellipse cx="132.5" cy="1126.2" rx="2.4" ry="2" fill="#ffffff"/><rect x="143.9" y="1128.2" width="1.4" height="26" fill="#6d6d6d"/><rect x="151.3" y="1128.2" width="1.4" height="26" fill="#6d6d6d"/><rect x="138.4" y="1127.6" width="4.3" height="46" rx="1.6" fill="#ffffff"/><ellipse cx="140.6" cy="1123.7" rx="2.7" ry="2.2" fill="#ffffff"/><path d="M146.3 1129h4l-0.7 24.4h-2.6z" fill="#ffffff"/><ellipse cx="148.3" cy="1126.2" rx="2.4" ry="2" fill="#ffffff"/><rect x="159.7" y="1128.2" width="1.4" height="26" fill="#6d6d6d"/><rect x="167.1" y="1128.2" width="1.4" height="26" fill="#6d6d6d"/><rect x="154.2" y="1127.6" width="4.3" height="46" rx="1.6" fill="#ffffff"/><ellipse cx="156.4" cy="1123.7" rx="2.7" ry="2.2" fill="#ffffff"/><path d="M162.1 1129h4l-0.7 24.4h-2.6z" fill="#ffffff"/><ellipse cx="164.1" cy="1126.2" rx="2.4" ry="2" fill="#ffffff"/><rect x="175.6" y="1128.2" width="1.4" height="26" fill="#6d6d6d"/><rect x="182.9" y="1128.2" width="1.4" height="26" fill="#6d6d6d"/><rect x="170.1" y="1127.6" width="4.3" height="46" rx="1.6" fill="#ffffff"/><ellipse cx="172.2" cy="1123.7" rx="2.7" ry="2.2" fill="#ffffff"/><path d="M177.9 1129h4l-0.7 24.4h-2.6z" fill="#ffffff"/><ellipse cx="179.9" cy="1126.2" rx="2.4" ry="2" fill="#ffffff"/><rect x="191.4" y="1128.2" width="1.4" height="26" fill="#6d6d6d"/><rect x="198.7" y="1128.2" width="1.4" height="26" fill="#6d6d6d"/><rect x="185.9" y="1127.6" width="4.3" height="46" rx="1.6" fill="#ffffff"/><ellipse cx="188.1" cy="1123.7" rx="2.7" ry="2.2" fill="#ffffff"/><path d="M193.7 1129h4l-0.7 24.4h-2.6z" fill="#ffffff"/><ellipse cx="195.7" cy="1126.2" rx="2.4" ry="2" fill="#ffffff"/><rect x="207.2" y="1128.2" width="1.4" height="26" fill="#6d6d6d"/><rect x="214.5" y="1128.2" width="1.4" height="26" fill="#6d6d6d"/><rect x="201.8" y="1127.6" width="4.3" height="46" rx="1.6" fill="#ffffff"/><ellipse cx="203.9" cy="1123.7" rx="2.7" ry="2.2" fill="#ffffff"/><path d="M209.5 1129h4l-0.7 24.4h-2.6z" fill="#ffffff"/><ellipse cx="211.5" cy="1126.2" rx="2.4" ry="2" fill="#ffffff"/><rect x="223.1" y="1128.2" width="1.4" height="26" fill="#6d6d6d"/><rect x="230.3" y="1128.2" width="1.4" height="26" fill="#6d6d6d"/><rect x="217.7" y="1127.6" width="4.3" height="46" rx="1.6" fill="#ffffff"/><ellipse cx="219.8" cy="1123.7" rx="2.7" ry="2.2" fill="#ffffff"/><path d="M225.3 1129h4l-0.7 24.4h-2.6z" fill="#ffffff"/><ellipse cx="227.3" cy="1126.2" rx="2.4" ry="2" fill="#ffffff"/><rect x="238.9" y="1128.2" width="1.4" height="26" fill="#6d6d6d"/><rect x="246.1" y="1128.2" width="1.4" height="26" fill="#6d6d6d"/><rect x="233.5" y="1127.6" width="4.3" height="46" rx="1.6" fill="#ffffff"/><ellipse cx="235.6" cy="1123.7" rx="2.7" ry="2.2" fill="#ffffff"/><path d="M241.1 1129h4l-0.7 24.4h-2.6z" fill="#ffffff"/><ellipse cx="243.1" cy="1126.2" rx="2.4" ry="2" fill="#ffffff"/><rect x="254.8" y="1128.2" width="1.4" height="26" fill="#6d6d6d"/><rect x="261.9" y="1128.2" width="1.4" height="26" fill="#6d6d6d"/><rect x="249.3" y="1127.6" width="4.3" height="46" rx="1.6" fill="#ffffff"/><ellipse cx="251.5" cy="1123.7" rx="2.7" ry="2.2" fill="#ffffff"/><path d="M256.9 1129h4l-0.7 24.4h-2.6z" fill="#ffffff"/><ellipse cx="258.9" cy="1126.2" rx="2.4" ry="2" fill="#ffffff"/><rect x="270.6" y="1128.2" width="1.4" height="26" fill="#6d6d6d"/><rect x="277.7" y="1128.2" width="1.4" height="26" fill="#6d6d6d"/><rect x="265.2" y="1127.6" width="4.3" height="46" rx="1.6" fill="#ffffff"/><ellipse cx="267.3" cy="1123.7" rx="2.7" ry="2.2" fill="#ffffff"/><path d="M272.7 1129h4l-0.7 24.4h-2.6z" fill="#ffffff"/><ellipse cx="274.7" cy="1126.2" rx="2.4" ry="2" fill="#ffffff"/><rect x="286.5" y="1128.2" width="1.4" height="26" fill="#6d6d6d"/><rect x="293.5" y="1128.2" width="1.4" height="26" fill="#6d6d6d"/><rect x="281.1" y="1127.6" width="4.3" height="46" rx="1.6" fill="#ffffff"/><ellipse cx="283.2" cy="1123.7" rx="2.7" ry="2.2" fill="#ffffff"/><path d="M288.5 1129h4l-0.7 24.4h-2.6z" fill="#ffffff"/><ellipse cx="290.5" cy="1126.2" rx="2.4" ry="2" fill="#ffffff"/><rect x="302.4" y="1128.2" width="1.4" height="26" fill="#6d6d6d"/><rect x="309.3" y="1128.2" width="1.4" height="26" fill="#6d6d6d"/><rect x="296.9" y="1127.6" width="4.3" height="46" rx="1.6" fill="#ffffff"/><ellipse cx="299.1" cy="1123.7" rx="2.7" ry="2.2" fill="#ffffff"/><path d="M304.3 1129h4l-0.7 24.4h-2.6z" fill="#ffffff"/><ellipse cx="306.3" cy="1126.2" rx="2.4" ry="2" fill="#ffffff"/><rect x="318.2" y="1128.2" width="1.4" height="26" fill="#6d6d6d"/><rect x="325.1" y="1128.2" width="1.4" height="26" fill="#6d6d6d"/><rect x="312.8" y="1127.6" width="4.3" height="46" rx="1.6" fill="#ffffff"/><ellipse cx="314.9" cy="1123.7" rx="2.7" ry="2.2" fill="#ffffff"/><path d="M320.1 1129h4l-0.7 24.4h-2.6z" fill="#ffffff"/><ellipse cx="322.1" cy="1126.2" rx="2.4" ry="2" fill="#ffffff"/><rect x="334.1" y="1128.2" width="1.4" height="26" fill="#6d6d6d"/><rect x="340.9" y="1128.2" width="1.4" height="26" fill="#6d6d6d"/><rect x="328.6" y="1127.6" width="4.3" height="46" rx="1.6" fill="#ffffff"/><ellipse cx="330.8" cy="1123.7" rx="2.7" ry="2.2" fill="#ffffff"/><path d="M335.9 1129h4l-0.7 24.4h-2.6z" fill="#ffffff"/><ellipse cx="337.9" cy="1126.2" rx="2.4" ry="2" fill="#ffffff"/><rect x="349.9" y="1128.2" width="1.4" height="26" fill="#6d6d6d"/><rect x="356.7" y="1128.2" width="1.4" height="26" fill="#6d6d6d"/><rect x="344.5" y="1127.6" width="4.3" height="46" rx="1.6" fill="#ffffff"/><ellipse cx="346.6" cy="1123.7" rx="2.7" ry="2.2" fill="#ffffff"/><path d="M351.7 1129h4l-0.7 24.4h-2.6z" fill="#ffffff"/><ellipse cx="353.7" cy="1126.2" rx="2.4" ry="2" fill="#ffffff"/><rect x="365.8" y="1128.2" width="1.4" height="26" fill="#6d6d6d"/><rect x="372.5" y="1128.2" width="1.4" height="26" fill="#6d6d6d"/><rect x="360.3" y="1127.6" width="4.3" height="46" rx="1.6" fill="#ffffff"/><ellipse cx="362.4" cy="1123.7" rx="2.7" ry="2.2" fill="#ffffff"/><path d="M367.5 1129h4l-0.7 24.4h-2.6z" fill="#ffffff"/><ellipse cx="369.5" cy="1126.2" rx="2.4" ry="2" fill="#ffffff"/>
<rect x="45" y="1209.6" width="345.2" height="1.8" fill="#060606"/>
</g>
</svg>
<svg x="401.0" y="1013.4" width="344.90000000000003" height="298.30000000000007" viewBox="401.0 1013.4 344.90000000000003 298.30000000000007">
<rect x="401.0" y="1013.4" width="344.90000000000003" height="298.30000000000007" fill="#7b7b7b"/>
<rect x="401.0" y="1053" width="344.90000000000003" height="33" fill="#767676"/>
<rect x="401.0" y="1274.8" width="344.90000000000003" height="37.5" fill="#818181"/>
<rect x="401.0" y="1013.4" width="344.90000000000003" height="298.30000000000007" filter="url(#grain)" opacity="0.10"/>
<g filter="url(#soft)">
<rect x="399.0" y="1048.3" width="348.6" height="4.6" fill="#262626"/>
<rect x="399.0" y="1085.4" width="348.6" height="189.6" fill="#ffffff"/>
<text x="406.8" y="1149.4" font-size="33.4" fill="#6f6f6f" textLength="306" lengthAdjust="spacingAndGlyphs" stroke="#fff" stroke-width="0.7">BLD-HTT060H074-A3</text>
<text x="631" y="1174.6" font-size="32.4" fill="#6f6f6f" textLength="99" lengthAdjust="spacingAndGlyphs" stroke="#fff" stroke-width="0.7">180723</text>
</g>
<rect x="401.5" y="1013.9" width="343.90000000000003" height="297.30000000000007" fill="none" stroke="#2c2c2c" stroke-width="1.2"/>
</svg>
<svg x="759.2" y="1013.4" width="344.90000000000003" height="298.30000000000007" viewBox="759.2 1013.4 344.90000000000003 298.30000000000007">
<rect x="759.2" y="1013.4" width="344.90000000000003" height="298.30000000000007" fill="#535353"/>
<rect x="759.2" y="1013.4" width="344.90000000000003" height="298.30000000000007" filter="url(#mottle)" opacity="0.16"/>
<rect x="759.2" y="1013.4" width="344.90000000000003" height="298.30000000000007" filter="url(#grain)" opacity="0.10"/>
<g filter="url(#soft2)">
<path d="M813.9 1170.6C813.1 1167.0 809.6 1155.8 809.1 1149.0C808.6 1142.2 809.3 1135.8 810.8 1129.8C812.3 1123.8 814.6 1117.8 818.0 1113.0C821.4 1108.2 824.2 1105.6 831.2 1101.0C838.2 1096.4 849.2 1089.5 860.0 1085.4C870.8 1081.3 884.0 1078.3 896.0 1076.5C908.0 1074.7 920.0 1074.6 932.0 1074.6C944.0 1074.6 956.0 1075.0 968.0 1076.3C980.0 1077.6 993.6 1079.8 1004.0 1082.3C1014.4 1084.7 1022.0 1086.8 1030.4 1090.9C1038.8 1095.0 1046.8 1101.4 1054.4 1107.0C1062.0 1112.6 1069.2 1119.0 1076.0 1124.5C1082.8 1130.0 1089.6 1134.2 1095.2 1139.9C1100.8 1145.6 1106.8 1150.7 1109.6 1158.6C1112.4 1166.5 1113.2 1178.2 1112.0 1187.4C1110.8 1196.6 1106.8 1207.5 1102.4 1213.8C1098.0 1220.1 1092.8 1221.2 1085.6 1225.3C1078.4 1229.4 1068.8 1233.7 1059.2 1238.3C1049.6 1242.8 1039.2 1248.7 1028.0 1252.7C1016.8 1256.7 1004.0 1260.1 992.0 1262.3C980.0 1264.4 968.0 1265.6 956.0 1265.6C944.0 1265.6 932.0 1264.8 920.0 1262.3C908.0 1259.7 894.8 1255.1 884.0 1250.3C873.2 1245.5 863.2 1239.5 855.2 1233.5C847.2 1227.5 841.5 1221.5 836.0 1214.3C830.5 1207.1 825.8 1197.6 822.1 1190.3C818.4 1183.0 816.1 1177.5 813.9 1170.6C811.8 1163.7 809.9 1152.6 809.1 1149.0Z" fill="#222222"/>
<path d="M1076.0 1177.8C1076.6 1181.0 1080.4 1190.6 1079.6 1197.0C1078.8 1203.4 1075.8 1210.2 1071.2 1216.2C1066.6 1222.2 1055.2 1230.2 1052.0 1233.0" fill="none" stroke="#3a3a3a" stroke-width="5" opacity="0.8"/>
<path d="M886.4 1253.4C891.2 1254.7 905.6 1259.6 915.2 1261.3C924.8 1263.0 936.8 1263.4 944.0 1263.7C951.2 1264.0 956.0 1263.3 958.4 1263.2" fill="none" stroke="#353535" stroke-width="2"/>
<path d="M777.0 1123.8C776.8 1121.8 775.4 1114.3 776.0 1111.8C776.6 1109.3 778.3 1108.4 780.3 1108.7C782.3 1109.0 784.1 1112.7 788.0 1113.5C791.9 1114.3 799.1 1113.4 803.6 1113.5C808.1 1113.6 812.8 1112.3 814.9 1114.2C817.0 1116.1 816.8 1121.4 816.3 1125.0C815.8 1128.6 814.1 1133.4 812.0 1135.8C809.9 1138.2 806.8 1137.6 803.6 1139.4C800.4 1141.2 796.3 1145.8 792.8 1146.6C789.3 1147.4 785.1 1146.0 782.7 1144.2C780.3 1142.4 779.4 1139.2 778.4 1135.8C777.4 1132.4 777.4 1127.8 777.0 1123.8C776.6 1119.8 776.2 1113.8 776.0 1111.8Z" fill="#d8d8d8"/>
<path d="M788.0 1113.0C787.3 1112.6 781.7 1111.9 783.7 1110.6C785.7 1109.3 795.3 1105.9 800.0 1105.3C804.7 1104.7 809.5 1105.6 812.0 1107.0C814.5 1108.4 816.3 1112.5 814.9 1113.5C813.5 1114.5 808.1 1113.1 803.6 1113.0C799.1 1112.9 791.3 1113.4 788.0 1113.0C784.7 1112.6 784.4 1111.0 783.7 1110.6Z" fill="#3d3d3d"/>
<rect x="788.0" y="1120.2" width="11.4" height="16" fill="#454545" transform="rotate(-4 794.0 1127.9)"/>
<circle cx="781.3" cy="1129.8" r="1.6" fill="#1a1a1a"/>
<path d="M825.0 1153.8C825.3 1149.8 825.5 1136.4 826.9 1129.8C828.3 1123.2 830.1 1118.7 833.4 1114.2C836.6 1109.7 839.6 1106.8 846.6 1102.9C853.6 1099.0 862.9 1093.8 875.4 1090.9C887.8 1088.0 907.6 1086.3 921.2 1085.6C934.8 1085.0 945.2 1085.4 957.2 1086.8C969.2 1088.3 983.2 1091.0 993.2 1094.3C1003.2 1097.5 1010.8 1101.6 1017.2 1106.3C1023.6 1111.0 1028.0 1116.7 1031.6 1122.6C1035.2 1128.5 1037.4 1133.4 1038.8 1141.8C1040.2 1150.2 1040.6 1163.0 1040.2 1173.0C1039.8 1183.0 1039.0 1193.8 1036.4 1201.8C1033.8 1209.8 1029.6 1215.5 1024.4 1221.0C1019.2 1226.5 1014.4 1231.0 1005.2 1234.9C996.0 1238.8 981.2 1242.5 969.2 1244.5C957.2 1246.5 945.6 1247.3 933.2 1246.9C920.8 1246.5 905.8 1245.2 894.6 1242.1C883.3 1239.0 874.1 1234.0 865.8 1228.2C857.4 1222.4 850.6 1214.6 844.6 1207.1C838.7 1199.6 833.5 1192.0 830.2 1183.1C827.0 1174.2 825.5 1162.7 825.0 1153.8C824.4 1144.9 826.6 1133.8 826.9 1129.8Z" fill="#b8b8b8"/>
<path d="M826.4 1153.8C826.7 1149.8 826.9 1136.4 828.3 1129.8C829.7 1123.2 831.5 1118.7 834.8 1114.2C838.1 1109.7 841.0 1106.8 848.0 1102.9C855.0 1099.0 864.8 1093.8 876.8 1090.9C888.8 1088.0 906.8 1086.3 920.0 1085.6C933.2 1085.0 944.0 1085.4 956.0 1086.8C968.0 1088.3 982.0 1091.0 992.0 1094.3C1002.0 1097.5 1009.6 1101.6 1016.0 1106.3C1022.4 1111.0 1026.8 1116.7 1030.4 1122.6C1034.0 1128.5 1036.2 1133.4 1037.6 1141.8C1039.0 1150.2 1039.4 1163.0 1039.0 1173.0C1038.6 1183.0 1037.8 1193.8 1035.2 1201.8C1032.6 1209.8 1028.4 1215.5 1023.2 1221.0C1018.0 1226.5 1013.2 1231.0 1004.0 1234.9C994.8 1238.8 980.0 1242.5 968.0 1244.5C956.0 1246.5 944.0 1247.3 932.0 1246.9C920.0 1246.5 906.8 1245.2 896.0 1242.1C885.2 1239.0 875.5 1234.0 867.2 1228.2C858.9 1222.4 852.0 1214.6 846.1 1207.1C840.2 1199.6 835.0 1192.0 831.7 1183.1C828.4 1174.2 827.0 1162.7 826.4 1153.8C825.8 1144.9 828.0 1133.8 828.3 1129.8Z" fill="#ffffff"/>
<ellipse cx="834.8" cy="1107.0" rx="3.6" ry="4.6" fill="#ffffff" transform="rotate(-30 834.8 1107.0)"/>
</g>
<path d="M942.8 1134.6C941.8 1136.6 938.9 1141.8 936.8 1146.6C934.7 1151.4 932.2 1157.8 930.1 1163.4C928.0 1169.0 926.0 1174.6 924.3 1180.2C922.6 1185.8 921.3 1192.0 920.0 1197.0C918.7 1202.0 917.2 1208.0 916.6 1210.2" fill="none" stroke="#2a2a2a" stroke-width="0.9"/>
<g fill="#5a5a5a"><rect x="1054.9" y="1150.2" width="1.6" height="6"/><rect x="1070.7" y="1150.2" width="1.6" height="6"/><rect x="1095.7" y="1155.0" width="5" height="2" fill="#cfcfcf"/></g>
<rect x="759.7" y="1013.9" width="343.90000000000003" height="297.30000000000007" fill="none" stroke="#2c2c2c" stroke-width="1.2"/>
</svg>
<svg x="1115.2" y="1013.4" width="344.90000000000003" height="298.30000000000007" viewBox="1115.2 1013.4 344.90000000000003 298.30000000000007">
<rect x="1115.2" y="1013.4" width="344.90000000000003" height="298.30000000000007" fill="#020202"/>
<defs><linearGradient id="lbl" x1="0" y1="0" x2="1" y2="0"><stop offset="0" stop-color="#3c3c3c"/><stop offset="0.35" stop-color="#8a8a8a"/><stop offset="1" stop-color="#ffffff"/></linearGradient></defs>
<g filter="url(#soft)">
<ellipse cx="1184.8" cy="1021.8" rx="10.1" ry="11.1" fill="#1d1d1d"/>
<ellipse cx="1370.8" cy="1157.4" rx="8.2" ry="9.0" fill="#1d1d1d"/>
<ellipse cx="1180.0" cy="1288.2" rx="9.6" ry="10.6" fill="#1d1d1d"/>
<path d="M1112.8 1042.2H1231.6Q1243.6 1042.2 1243.6 1054.2V1064.5H1112.8Z" fill="#2d2d2d"/>
<path d="M1112.8 1245.7H1240.7V1256.1Q1240.7 1266.1 1228.7 1266.1H1112.8Z" fill="#292929"/>
<ellipse cx="1159.6" cy="1255.8" rx="5" ry="4" fill="#0a0a0a"/><ellipse cx="1166.6" cy="1255.8" rx="5" ry="4" fill="#0a0a0a"/>
<path d="M1112.8 1074.6H1212.9Q1242.9 1077.6 1244.4 1114.6V1216.7L1206.4 1234.2H1112.8Z" fill="#ffffff"/>
<rect x="1254.9" y="1065.0" width="6.7" height="182.9" fill="#2a2a2a"/>
<rect x="1258.0" y="1065.0" width="98.6" height="183.8" fill="#ffffff"/>
<rect x="1258.0" y="1065.0" width="11.3" height="183.4" fill="url(#lbl)"/>
</g>
<path d="M1282.50 1114.40h3.57v3.60h-3.57zM1289.43 1114.40h3.57v3.60h-3.57zM1296.37 1114.40h3.57v3.60h-3.57zM1303.30 1114.40h3.57v3.60h-3.57zM1310.23 1114.40h3.57v3.60h-3.57zM1317.17 1114.40h3.57v3.60h-3.57zM1324.10 1114.40h3.57v3.60h-3.57zM1331.03 1114.40h3.57v3.60h-3.57zM1337.97 1114.40h3.57v3.60h-3.57zM1282.50 1117.90h3.57v3.60h-3.57zM1285.97 1117.90h3.57v3.60h-3.57zM1292.90 1117.90h3.57v3.60h-3.57zM1299.83 1117.90h3.57v3.60h-3.57zM1303.30 1117.90h3.57v3.60h-3.57zM1306.77 1117.90h3.57v3.60h-3.57zM1310.23 1117.90h3.57v3.60h-3.57zM1317.17 1117.90h3.57v3.60h-3.57zM1327.57 1117.90h3.57v3.60h-3.57zM1334.50 1117.90h3.57v3.60h-3.57zM1337.97 1117.90h3.57v3.60h-3.57zM1341.43 1117.90h3.57v3.60h-3.57zM1282.50 1121.40h3.57v3.60h-3.57zM1285.97 1121.40h3.57v3.60h-3.57zM1289.43 1121.40h3.57v3.60h-3.57zM1296.37 1121.40h3.57v3.60h-3.57zM1299.83 1121.40h3.57v3.60h-3.57zM1310.23 1121.40h3.57v3.60h-3.57zM1327.57 1121.40h3.57v3.60h-3.57zM1334.50 1121.40h3.57v3.60h-3.57zM1337.97 1121.40h3.57v3.60h-3.57zM1282.50 1124.90h3.57v3.60h-3.57zM1285.97 1124.90h3.57v3.60h-3.57zM1289.43 1124.90h3.57v3.60h-3.57zM1306.77 1124.90h3.57v3.60h-3.57zM1320.63 1124.90h3.57v3.60h-3.57zM1331.03 1124.90h3.57v3.60h-3.57zM1337.97 1124.90h3.57v3.60h-3.57zM1341.43 1124.90h3.57v3.60h-3.57zM1282.50 1128.40h3.57v3.60h-3.57zM1292.90 1128.40h3.57v3.60h-3.57zM1296.37 1128.40h3.57v3.60h-3.57zM1303.30 1128.40h3.57v3.60h-3.57zM1306.77 1128.40h3.57v3.60h-3.57zM1310.23 1128.40h3.57v3.60h-3.57zM1313.70 1128.40h3.57v3.60h-3.57zM1317.17 1128.40h3.57v3.60h-3.57zM1324.10 1128.40h3.57v3.60h-3.57zM1327.57 1128.40h3.57v3.60h-3.57zM1331.03 1128.40h3.57v3.60h-3.57zM1337.97 1128.40h3.57v3.60h-3.57zM1282.50 1131.90h3.57v3.60h-3.57zM1296.37 1131.90h3.57v3.60h-3.57zM1299.83 1131.90h3.57v3.60h-3.57zM1303.30 1131.90h3.57v3.60h-3.57zM1313.70 1131.90h3.57v3.60h-3.57zM1317.17 1131.90h3.57v3.60h-3.57zM1320.63 1131.90h3.57v3.60h-3.57zM1324.10 1131.90h3.57v3.60h-3.57zM1327.57 1131.90h3.57v3.60h-3.57zM1334.50 1131.90h3.57v3.60h-3.57zM1337.97 1131.90h3.57v3.60h-3.57zM1341.43 1131.90h3.57v3.60h-3.57zM1282.50 1135.40h3.57v3.60h-3.57zM1306.77 1135.40h3.57v3.60h-3.57zM1324.10 1135.40h3.57v3.60h-3.57zM1327.57 1135.40h3.57v3.60h-3.57zM1331.03 1135.40h3.57v3.60h-3.57zM1337.97 1135.40h3.57v3.60h-3.57zM1282.50 1138.90h3.57v3.60h-3.57zM1285.97 1138.90h3.57v3.60h-3.57zM1289.43 1138.90h3.57v3.60h-3.57zM1292.90 1138.90h3.57v3.60h-3.57zM1296.37 1138.90h3.57v3.60h-3.57zM1299.83 1138.90h3.57v3.60h-3.57zM1303.30 1138.90h3.57v3.60h-3.57zM1306.77 1138.90h3.57v3.60h-3.57zM1310.23 1138.90h3.57v3.60h-3.57zM1320.63 1138.90h3.57v3.60h-3.57zM1324.10 1138.90h3.57v3.60h-3.57zM1327.57 1138.90h3.57v3.60h-3.57zM1331.03 1138.90h3.57v3.60h-3.57zM1334.50 1138.90h3.57v3.60h-3.57zM1341.43 1138.90h3.57v3.60h-3.57zM1282.50 1142.40h3.57v3.60h-3.57zM1285.97 1142.40h3.57v3.60h-3.57zM1289.43 1142.40h3.57v3.60h-3.57zM1292.90 1142.40h3.57v3.60h-3.57zM1296.37 1142.40h3.57v3.60h-3.57zM1299.83 1142.40h3.57v3.60h-3.57zM1306.77 1142.40h3.57v3.60h-3.57zM1310.23 1142.40h3.57v3.60h-3.57zM1320.63 1142.40h3.57v3.60h-3.57zM1327.57 1142.40h3.57v3.60h-3.57zM1282.50 1145.90h3.57v3.60h-3.57zM1285.97 1145.90h3.57v3.60h-3.57zM1289.43 1145.90h3.57v3.60h-3.57zM1303.30 1145.90h3.57v3.60h-3.57zM1306.77 1145.90h3.57v3.60h-3.57zM1331.03 1145.90h3.57v3.60h-3.57zM1337.97 1145.90h3.57v3.60h-3.57zM1341.43 1145.90h3.57v3.60h-3.57zM1282.50 1149.40h3.57v3.60h-3.57zM1285.97 1149.40h3.57v3.60h-3.57zM1289.43 1149.40h3.57v3.60h-3.57zM1299.83 1149.40h3.57v3.60h-3.57zM1313.70 1149.40h3.57v3.60h-3.57zM1317.17 1149.40h3.57v3.60h-3.57zM1320.63 1149.40h3.57v3.60h-3.57zM1324.10 1149.40h3.57v3.60h-3.57zM1327.57 1149.40h3.57v3.60h-3.57zM1282.50 1152.90h3.57v3.60h-3.57zM1289.43 1152.90h3.57v3.60h-3.57zM1306.77 1152.90h3.57v3.60h-3.57zM1310.23 1152.90h3.57v3.60h-3.57zM1317.17 1152.90h3.57v3.60h-3.57zM1327.57 1152.90h3.57v3.60h-3.57zM1331.03 1152.90h3.57v3.60h-3.57zM1341.43 1152.90h3.57v3.60h-3.57zM1282.50 1156.40h3.57v3.60h-3.57zM1285.97 1156.40h3.57v3.60h-3.57zM1296.37 1156.40h3.57v3.60h-3.57zM1310.23 1156.40h3.57v3.60h-3.57zM1317.17 1156.40h3.57v3.60h-3.57zM1320.63 1156.40h3.57v3.60h-3.57zM1337.97 1156.40h3.57v3.60h-3.57zM1282.50 1159.90h3.57v3.60h-3.57zM1285.97 1159.90h3.57v3.60h-3.57zM1289.43 1159.90h3.57v3.60h-3.57zM1292.90 1159.90h3.57v3.60h-3.57zM1296.37 1159.90h3.57v3.60h-3.57zM1303.30 1159.90h3.57v3.60h-3.57zM1306.77 1159.90h3.57v3.60h-3.57zM1310.23 1159.90h3.57v3.60h-3.57zM1317.17 1159.90h3.57v3.60h-3.57zM1320.63 1159.90h3.57v3.60h-3.57zM1331.03 1159.90h3.57v3.60h-3.57zM1341.43 1159.90h3.57v3.60h-3.57zM1282.50 1163.40h3.57v3.60h-3.57zM1285.97 1163.40h3.57v3.60h-3.57zM1289.43 1163.40h3.57v3.60h-3.57zM1292.90 1163.40h3.57v3.60h-3.57zM1296.37 1163.40h3.57v3.60h-3.57zM1303.30 1163.40h3.57v3.60h-3.57zM1306.77 1163.40h3.57v3.60h-3.57zM1317.17 1163.40h3.57v3.60h-3.57zM1331.03 1163.40h3.57v3.60h-3.57zM1337.97 1163.40h3.57v3.60h-3.57zM1282.50 1166.90h3.57v3.60h-3.57zM1285.97 1166.90h3.57v3.60h-3.57zM1289.43 1166.90h3.57v3.60h-3.57zM1292.90 1166.90h3.57v3.60h-3.57zM1296.37 1166.90h3.57v3.60h-3.57zM1299.83 1166.90h3.57v3.60h-3.57zM1303.30 1166.90h3.57v3.60h-3.57zM1306.77 1166.90h3.57v3.60h-3.57zM1310.23 1166.90h3.57v3.60h-3.57zM1313.70 1166.90h3.57v3.60h-3.57zM1317.17 1166.90h3.57v3.60h-3.57zM1320.63 1166.90h3.57v3.60h-3.57zM1324.10 1166.90h3.57v3.60h-3.57zM1327.57 1166.90h3.57v3.60h-3.57zM1331.03 1166.90h3.57v3.60h-3.57zM1334.50 1166.90h3.57v3.60h-3.57zM1337.97 1166.90h3.57v3.60h-3.57zM1341.43 1166.90h3.57v3.60h-3.57z" fill="#111" filter="url(#soft)"/>
<g fill="#222" font-size="8.6">
<text transform="translate(1270.2,1116) rotate(90)" textLength="54" lengthAdjust="spacingAndGlyphs">180712065501</text>
<text x="1312.8" y="1181" text-anchor="middle" textLength="33" lengthAdjust="spacingAndGlyphs">820870</text>
<text x="1311.8" y="1190.4" text-anchor="middle" textLength="40" lengthAdjust="spacingAndGlyphs">U PTA-073</text>
</g>
<g filter="url(#soft)" fill="none" stroke="#ffffff">
<path d="M1405.8 1133.0A43.8 38.4 0 0 1 1469.3 1131.5" stroke-width="6.4"/>
<path d="M1405.8 1184.4A43.8 38.4 0 0 0 1469.3 1185.9" stroke-width="6.4"/>
<path d="M1428.0 1131.8A28.8 28.8 0 0 1 1449.1 1132.0" stroke-width="1.5"/>
<path d="M1430.4 1186.4A28.8 28.8 0 0 0 1446.2 1186.4" stroke-width="1.5"/>
<ellipse cx="1438.3" cy="1158.7" rx="23.2" ry="20" fill="#ffffff" stroke="none"/>
<circle cx="1438.3" cy="1158.7" r="14.8" fill="#262626" stroke="#0a0a0a" stroke-width="1.4"/>
</g>
</svg>
</svg>

</body>
</html>
